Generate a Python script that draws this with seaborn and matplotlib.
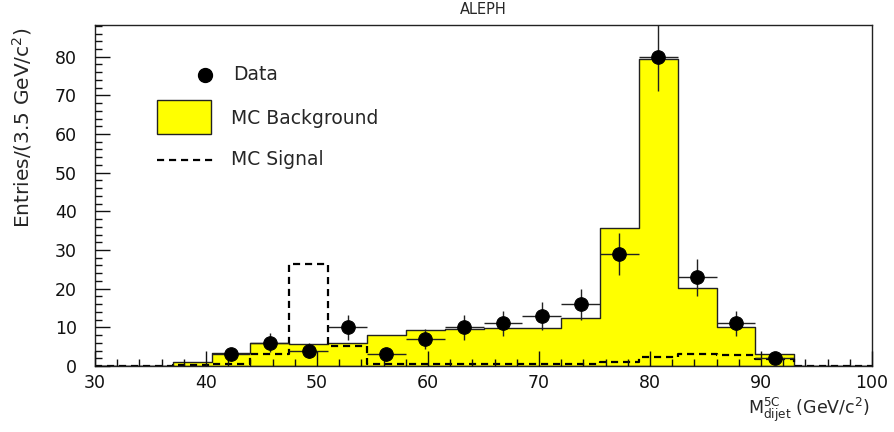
import numpy as np
import pandas as pd
import matplotlib
matplotlib.use("Agg")
import matplotlib.pyplot as plt
import seaborn as sns
from matplotlib.patches import Rectangle
from matplotlib.lines import Line2D

# ---- data ----
bin_width = 3.5
bin_edges = [30 + bin_width * i for i in range(21)]
bin_centers = [30 + bin_width * (i + 0.5) for i in range(20)]
mc_background = [0, 0, 1.0, 3.4, 6.0, 5.6, 6.0, 7.9, 9.2, 9.6,
                 9.7, 9.8, 12.5, 35.7, 79.4, 20.2, 10.0, 3.1, 0, 0]
mc_signal = [0, 0, 0.3, 0.4, 3.2, 26.3, 5.3, 0.6, 0.4, 0.4,
             0.5, 0.4, 0.4, 1.1, 2.4, 3.0, 2.8, 1.8, 0, 0]
data_x = [42.25, 45.75, 49.25, 52.75, 56.25, 59.75, 63.25, 66.75,
          70.25, 73.75, 77.25, 80.75, 84.25, 87.75, 91.25]
data_y = [3, 6, 4, 10, 3, 7, 10, 11, 13, 16, 29, 80, 23, 11, 2]

sns.set_theme(style="white")
plt.rcParams['font.family'] = ['DejaVu Sans']

fig = plt.figure(figsize=(8.94, 4.32), dpi=100)
ax = fig.add_axes([95 / 894, 1 - 366 / 432, 777 / 894, 341 / 432])
ax.set_axisbelow(False)

sns.histplot(x=bin_centers, weights=mc_background, bins=bin_edges, element="step",
             fill=True, color="#ffff00", alpha=1, edgecolor="#222222", linewidth=1.0,
             ax=ax, zorder=1)
sns.histplot(x=bin_centers, weights=mc_signal, bins=bin_edges, element="step",
             fill=False, color="black", linestyle=(0, (3.2, 2.2)), linewidth=1.6,
             ax=ax, zorder=2)

yerr = np.sqrt(np.array(data_y, dtype=float))
ax.errorbar(data_x, data_y, xerr=bin_width / 2, yerr=yerr, fmt="none",
            ecolor="#222222", elinewidth=1.0, capsize=0, zorder=3)
sns.scatterplot(x=data_x, y=data_y, s=95, color="black", edgecolor="black",
                ax=ax, zorder=4, legend=False)

ax.set_xlim(30, 100)
ax.set_ylim(0, 88.2)
ax.set_xticks(range(30, 101, 10))
ax.set_xticks(np.arange(30, 101, 2), minor=True)
ax.set_yticks(range(0, 81, 10))
ax.set_yticks(np.arange(0, 89, 2), minor=True)
ax.tick_params(axis="both", which="both", direction="in", colors="#111111",
               labelsize=12.5, bottom=True, left=True, top=False, right=False)
ax.tick_params(axis="both", which="major", length=10.5, width=1.0)
ax.tick_params(axis="both", which="minor", length=5.2, width=1.0)
ax.tick_params(axis="x", which="major", pad=6)
ax.tick_params(axis="y", which="major", pad=13)
ax.set_xlabel("")
ax.set_ylabel("")
for s in ax.spines.values():
    s.set_visible(True)
    s.set_color("#222222")
    s.set_linewidth(1.0)

# legend drawn manually
ax.plot([0.1416], [0.8534], "o", color="black", markersize=10, transform=ax.transAxes)
ax.add_patch(Rectangle((0.0794, 0.6795), 0.0699, 0.1006, transform=ax.transAxes,
                       facecolor="#ffff00", edgecolor="#222222", linewidth=1.0))
ax.add_line(Line2D([0.0794, 0.1516], [0.604, 0.604], transform=ax.transAxes,
                   color="black", linestyle=(0, (3.2, 2.2)), linewidth=1.6))
ax.text(0.1776, 0.8534, "Data", transform=ax.transAxes, fontsize=13.5, va="center")
ax.text(0.1750, 0.727, "MC Background", transform=ax.transAxes, fontsize=13.5, va="center")
ax.text(0.1750, 0.607, "MC Signal", transform=ax.transAxes, fontsize=13.5, va="center")

fig.text(483 / 894, 1 - 10 / 432, "ALEPH", ha="center", va="center", fontsize=10.5)
fig.text(22 / 894, 1 - 27 / 432, r"Entries/(3.5 GeV/c$^2$)", rotation=90,
         ha="center", va="top", fontsize=14.5)
fig.text(870 / 894, 1 - 410 / 432, r"M$^{\rm 5C}_{\rm dijet}$ (GeV/c$^2$)",
         ha="right", va="center", fontsize=12.5)

fig.savefig("out.png", dpi=100)
